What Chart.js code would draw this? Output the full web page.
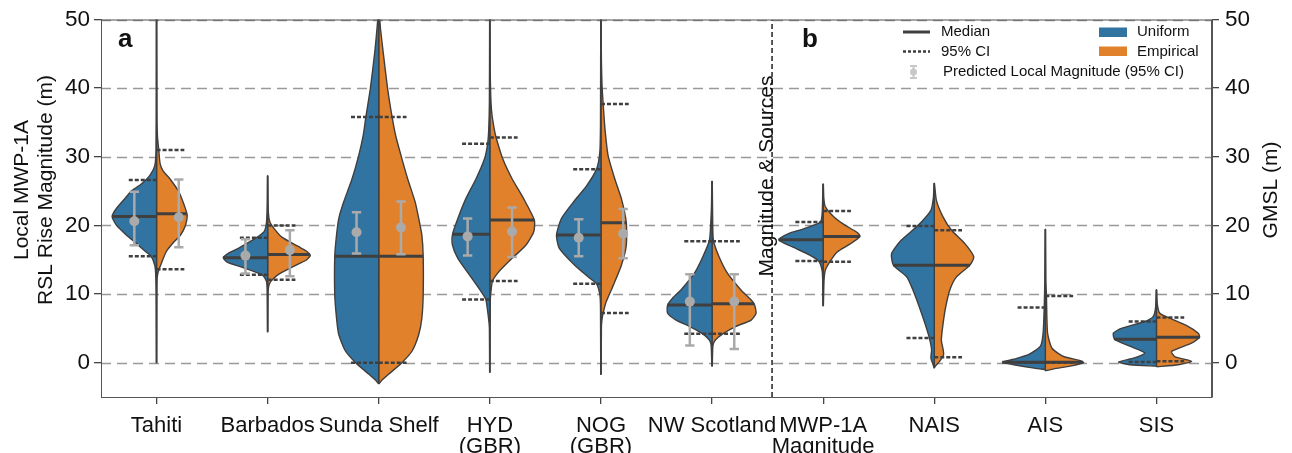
<!DOCTYPE html>
<html>
<head>
<meta charset="utf-8">
<script src="https://cdn.jsdelivr.net/npm/chart.js@4.4.0/dist/chart.umd.min.js"></script>
<style>
  html, body { margin: 0; padding: 0; background: #fff; }
</style>
</head>
<body>
<canvas id="violins" width="1292" height="453"></canvas>
<script>
// categories on the x axis (arrays = two-line labels)
const categories = ['Tahiti', 'Barbados', 'Sunda Shelf', ['HYD', '(GBR)'], ['NOG', '(GBR)'],
  'NW Scotland', ['MWP-1A', 'Magnitude'], 'NAIS', 'AIS', 'SIS'];
const yTicks = [0, 10, 20, 30, 40, 50];

// density profiles, [value (m), relative density 0..1]
const uniformProfiles = [
  [[0,0.005],[10,0.01],[13,0.02],[14.2,0.04],[15.5,0.12],[16.2,0.25],[17.5,0.48],[18.6,0.68],[20,0.9],[21.3,1.0],[22.5,0.9],[24,0.7],[25,0.57],[26,0.35],[27.3,0.15],[28.7,0.04],[31,0.012],[40,0.006],[50,0.005]],
  [[4.5,0.005],[10,0.01],[11.8,0.025],[12.8,0.12],[14,0.62],[14.6,0.9],[15.3,1.0],[16,0.87],[16.7,0.65],[18.1,0.28],[19.1,0.08],[20.5,0.025],[23,0.01],[27.2,0.005]],
  [[-3.1,0],[-2.7,0.05],[-1.7,0.22],[0,0.52],[1.7,0.75],[4.1,0.9],[6.5,0.95],[9.9,0.99],[15.5,0.99],[18.6,0.95],[21,0.9],[23.4,0.79],[26.8,0.6],[30.2,0.45],[33.1,0.35],[35.8,0.29],[39.9,0.19],[45.2,0.09],[48.6,0.04],[50,0.02]],
  [[-1.4,0.005],[5,0.01],[6.5,0.03],[9.2,0.09],[10.4,0.2],[12.8,0.46],[15.2,0.72],[17.1,0.84],[18.7,0.84],[21,0.72],[23.9,0.54],[26.8,0.31],[29.7,0.12],[31.9,0.05],[34,0.025],[38,0.01],[50,0.005]],
  [[-1.7,0.005],[8,0.01],[9.9,0.025],[11.5,0.1],[12.3,0.25],[14.2,0.59],[16.7,0.94],[18.6,1.0],[21,0.89],[23.4,0.62],[25.8,0.32],[28.2,0.1],[30.7,0.025],[35,0.01],[50,0.005]],
  [[-0.5,0.005],[2.5,0.02],[3.3,0.06],[4.2,0.21],[5.3,0.51],[6.2,0.81],[7.2,1.0],[8.4,1.0],[9.4,0.89],[10.6,0.7],[13,0.4],[15.4,0.21],[17.8,0.06],[20.2,0.03],[23,0.012],[26.4,0.005]],
  [[8.3,0.005],[12,0.01],[13.5,0.025],[14.8,0.1],[15.65,0.29],[16.9,0.7],[17.9,1.0],[18.8,0.78],[19.5,0.44],[20.5,0.06],[22,0.02],[26,0.005]],
  [[-0.8,0],[-0.3,0.025],[0.7,0.075],[1.9,0.06],[3.6,0.11],[5.75,0.21],[8.2,0.34],[10.6,0.48],[12.5,0.62],[14.2,0.92],[15.9,0.96],[17.8,0.75],[19.9,0.38],[22.2,0.075],[24,0.02],[26.1,0.005]],
  [[-1.0,0],[-0.8,0.25],[-0.3,0.71],[0.05,0.97],[0.5,0.71],[1.2,0.37],[2.4,0.11],[4.3,0.05],[8.2,0.025],[12,0.012],[19.4,0.005]],
  [[-0.5,0],[-0.3,0.6],[0.1,0.85],[0.7,0.5],[1.4,0.26],[2.4,0.6],[3.4,0.94],[4.3,0.97],[5.0,0.79],[6.0,0.26],[6.7,0.075],[8,0.02],[10.6,0.005]]
];
const empiricalProfiles = [
  [[0,0.005],[10,0.008],[12.5,0.015],[13.5,0.05],[14.5,0.11],[16.2,0.22],[17.5,0.38],[18.6,0.54],[20,0.65],[21.5,0.69],[23,0.62],[24.9,0.5],[26.8,0.3],[27.9,0.15],[29,0.08],[31,0.05],[33,0.02],[36,0.01],[50,0.005]],
  [[4.5,0.005],[10.5,0.012],[11.5,0.04],[12.2,0.12],[13,0.28],[14.4,0.7],[15,0.88],[15.65,0.96],[16.3,0.86],[16.9,0.7],[18.3,0.32],[19.5,0.15],[20.5,0.05],[22,0.015],[27.2,0.005]],
  [[-3.1,0],[-2.7,0.05],[-1.7,0.22],[0,0.52],[1.7,0.75],[4.1,0.9],[6.5,0.97],[9.9,1.0],[15.5,1.0],[18.6,0.97],[21,0.9],[23.4,0.82],[26.8,0.65],[30.2,0.5],[33.1,0.38],[35.8,0.3],[39.9,0.2],[45.2,0.1],[48.6,0.04],[50,0.02]],
  [[-1.4,0.005],[9,0.01],[10.4,0.025],[11.9,0.06],[13.3,0.21],[15.2,0.5],[17.1,0.81],[19.1,0.99],[20.8,1.0],[23.9,0.76],[26.8,0.5],[29.7,0.29],[32.8,0.14],[34,0.1],[36,0.05],[38,0.025],[42,0.01],[50,0.005]],
  [[-1.7,0.005],[5,0.01],[6.1,0.02],[7.25,0.05],[8.9,0.12],[11.3,0.28],[14.2,0.46],[17.1,0.57],[20.4,0.57],[23.9,0.46],[26.8,0.31],[30.2,0.16],[34.1,0.09],[37.7,0.05],[40.3,0.025],[44,0.01],[50,0.005]],
  [[-0.5,0.005],[2.5,0.02],[3.3,0.075],[4.2,0.24],[5.3,0.54],[6.2,0.88],[7.2,0.99],[8.55,0.95],[9.4,0.84],[10.6,0.65],[13,0.35],[15.4,0.16],[17.8,0.03],[20.2,0.015],[26.4,0.005]],
  [[8.3,0.005],[12,0.02],[13.5,0.05],[14.7,0.15],[16.1,0.31],[17.3,0.61],[18.4,0.83],[19,0.76],[20,0.5],[21.2,0.25],[22.7,0.05],[24,0.015],[26,0.005]],
  [[-0.8,0],[-0.5,0.025],[0.2,0.12],[1.15,0.21],[1.9,0.2],[3.3,0.16],[5.75,0.2],[8.2,0.26],[10.6,0.35],[12.5,0.5],[14.2,0.8],[15.4,0.89],[17.35,0.69],[19.3,0.39],[21.2,0.2],[23.6,0.05],[26.1,0.005]],
  [[-1.2,0],[-0.9,0.19],[-0.5,0.56],[0.0,0.86],[0.3,0.79],[0.9,0.41],[2.1,0.15],[4.3,0.05],[9.6,0.025],[12,0.012],[19.4,0.005]],
  [[-0.6,0],[-0.3,0.49],[0.2,0.79],[0.9,0.41],[1.65,0.34],[2.85,0.79],[3.7,0.97],[4.3,0.94],[5.3,0.71],[6.6,0.26],[7.2,0.075],[8.5,0.02],[10.6,0.005]]
];

// medians and 95% CI of each half
const uniformMedian   = [21.3, 15.3, 15.5, 18.7, 18.6, 8.4, 17.9, 14.2, 0.05, 3.4];
const empiricalMedian = [21.7, 15.75, 15.5, 20.8, 20.4, 8.6, 18.4, 14.2, 0.05, 3.7];
const uniformCILow    = [15.5, 12.8, 0, 9.2, 11.5, 4.2, 14.8, 3.6, 0, 0.1];
const uniformCIHigh   = [26.6, 18.2, 35.8, 31.9, 28.2, 17.7, 20.5, 19.9, 8.05, 6.0];
const empiricalCILow  = [13.6, 12.1, 0, 11.9, 7.25, 4.2, 14.7, 0.8, 0, 0.2];
const empiricalCIHigh = [31.0, 20.0, 35.8, 32.8, 37.7, 17.7, 22.1, 19.3, 9.7, 6.6];

// predicted local magnitude (panel a only)
const predUniform       = [20.6, 15.6, 19.0, 18.4, 18.2, 8.9];
const predUniformLow    = [17.1, 13.0, 15.9, 15.6, 15.5, 2.5];
const predUniformHigh   = [24.9, 18.0, 21.9, 21.0, 20.9, 12.9];
const predEmpirical     = [21.2, 16.4, 19.7, 19.1, 18.8, 8.9];
const predEmpiricalLow  = [16.8, 12.6, 15.8, 15.4, 15.2, 2.0];
const predEmpiricalHigh = [26.7, 19.3, 23.5, 22.6, 22.4, 12.9];

const panelSplit = 5.54;

const BLUE = '#3274a1', ORANGE = '#e1812c', EDGE = '#3f3f3f', ERR = '#aaaaaa';
const FONT = '"Liberation Sans", Arial, Helvetica, sans-serif';
const HALF = 0.4, CI_LEN = 0.25, ERR_OFF = 0.2, CAP = 0.042;

function densAt(profile, y) {
  for (let k = 1; k < profile.length; k++) {
    const [y0, d0] = profile[k - 1], [y1, d1] = profile[k];
    if (y >= y0 && y <= y1) return d0 + (d1 - d0) * (y - y0) / (y1 - y0);
  }
  return 0;
}

function halfViolin(i, profile, side, color) {
  const first = profile[0][0], last = profile[profile.length - 1][0];
  const pts = [{x: i, y: first}];
  profile.forEach(([y, d]) => pts.push({x: i + side * d * HALF, y: y}));
  pts.push({x: i, y: last});
  pts.push({x: i, y: first});
  return {data: pts, showLine: true, fill: 'shape', backgroundColor: color, borderColor: EDGE,
    borderWidth: 1.4, pointRadius: 0, tension: 0.2, order: 5};
}

function segment(pts, color, width, dash, order) {
  return {data: pts, showLine: true, fill: false, borderColor: color, borderWidth: width,
    borderDash: dash, pointRadius: 0, spanGaps: false, tension: 0, order: order};
}

const datasets = [];
categories.forEach((c, i) => {
  datasets.push(halfViolin(i, uniformProfiles[i], -1, BLUE));
  datasets.push(halfViolin(i, empiricalProfiles[i], 1, ORANGE));
  const mu = uniformMedian[i], me = empiricalMedian[i];
  datasets.push(segment([{x: i - HALF * densAt(uniformProfiles[i], mu), y: mu}, {x: i, y: mu}], EDGE, 3, [], 3));
  datasets.push(segment([{x: i, y: me}, {x: i + HALF * densAt(empiricalProfiles[i], me), y: me}], EDGE, 3, [], 3));
  [uniformCILow[i], uniformCIHigh[i]].forEach(v =>
    datasets.push(segment([{x: i - CI_LEN, y: v}, {x: i, y: v}], EDGE, 2.5, [4, 2], 2)));
  [empiricalCILow[i], empiricalCIHigh[i]].forEach(v =>
    datasets.push(segment([{x: i, y: v}, {x: i + CI_LEN, y: v}], EDGE, 2.5, [4, 2], 2)));
});

function errorBar(x, lo, hi) {
  return segment([
    {x: x - CAP, y: lo}, {x: x + CAP, y: lo}, {x: x, y: null},
    {x: x, y: lo}, {x: x, y: hi}, {x: x, y: null},
    {x: x - CAP, y: hi}, {x: x + CAP, y: hi}
  ], ERR, 2.5, [], 1);
}
predUniform.forEach((v, i) => {
  datasets.push(errorBar(i - ERR_OFF, predUniformLow[i], predUniformHigh[i]));
  datasets.push(errorBar(i + ERR_OFF, predEmpiricalLow[i], predEmpiricalHigh[i]));
});
datasets.push({
  data: predUniform.map((v, i) => ({x: i - ERR_OFF, y: v}))
    .concat(predEmpirical.map((v, i) => ({x: i + ERR_OFF, y: v}))),
  showLine: false, pointRadius: 5, pointBackgroundColor: ERR, pointBorderWidth: 0, order: 0
});
datasets.push(segment([{x: panelSplit, y: -5}, {x: panelSplit, y: 50}], '#222', 1.5, [5, 3], 4));

const decor = {
  id: 'decor',
  beforeDatasetsDraw(chart) {
    const {ctx, chartArea: a, scales: {y}} = chart;
    ctx.save();
    ctx.strokeStyle = '#999';
    ctx.lineWidth = 1.3;
    ctx.setLineDash([10, 6]);
    yTicks.forEach(t => {
      const py = Math.round(y.getPixelForValue(t)) + 0.5;
      ctx.beginPath(); ctx.moveTo(a.left, py); ctx.lineTo(a.right, py); ctx.stroke();
    });
    ctx.restore();
  },
  afterDraw(chart) {
    const {ctx, chartArea: a} = chart;
    ctx.save();
    ctx.strokeStyle = '#555';
    ctx.lineWidth = 1;
    ctx.strokeRect(a.left + 0.5, a.top + 0.5, a.right - a.left - 1, a.bottom - a.top);
    ctx.fillStyle = '#111';
    // axis titles
    ctx.textAlign = 'center';
    ctx.textBaseline = 'middle';
    ctx.font = '21px ' + FONT;
    [[22, 'Local MWP-1A'], [46, 'RSL Rise Magnitude (m)'], [1271, 'GMSL (m)'], [767, 'Magnitude & Sources']]
      .forEach(([x, t]) => {
        ctx.save();
        ctx.translate(x, t === 'Magnitude & Sources' ? 176 : 190);
        ctx.rotate(-Math.PI / 2);
        ctx.fillText(t, 0, 0);
        ctx.restore();
      });
    // panel letters
    ctx.font = 'bold 26px ' + FONT;
    ctx.textAlign = 'left';
    ctx.textBaseline = 'alphabetic';
    ctx.fillText('a', 118, 47);
    ctx.fillText('b', 802, 47);
    // legend
    ctx.font = '15px ' + FONT;
    ctx.textBaseline = 'middle';
    ctx.strokeStyle = EDGE;
    ctx.lineWidth = 3;
    ctx.beginPath(); ctx.moveTo(903, 32); ctx.lineTo(930, 32); ctx.stroke();
    ctx.lineWidth = 2.5;
    ctx.setLineDash([3, 2]);
    ctx.beginPath(); ctx.moveTo(903, 51.5); ctx.lineTo(930, 51.5); ctx.stroke();
    ctx.setLineDash([]);
    ctx.strokeStyle = '#c8c8c8';
    ctx.fillStyle = '#c8c8c8';
    ctx.lineWidth = 2;
    ctx.beginPath();
    ctx.moveTo(913.5, 66); ctx.lineTo(913.5, 78);
    ctx.moveTo(910, 66); ctx.lineTo(917, 66);
    ctx.moveTo(910, 78); ctx.lineTo(917, 78);
    ctx.stroke();
    ctx.beginPath(); ctx.arc(913.5, 72, 3.5, 0, Math.PI * 2); ctx.fill();
    ctx.fillStyle = BLUE; ctx.fillRect(1099, 27.5, 28, 9.5);
    ctx.fillStyle = ORANGE; ctx.fillRect(1099, 46.5, 28, 9.5);
    ctx.fillStyle = '#111';
    ctx.fillText('Median', 941, 32);
    ctx.fillText('95% CI', 941, 51.5);
    ctx.fillText('Predicted Local Magnitude (95% CI)', 943, 72);
    ctx.fillText('Uniform', 1137, 32);
    ctx.fillText('Empirical', 1137, 51.5);
    ctx.restore();
  }
};

const setTicks = scale => { scale.ticks = yTicks.map(v => ({value: v})); };

new Chart(document.getElementById('violins'), {
  type: 'scatter',
  data: {datasets: datasets},
  options: {
    responsive: false,
    animation: false,
    devicePixelRatio: 1,
    layout: {padding: {top: 18, left: 0, right: 0, bottom: 0}},
    plugins: {legend: {display: false}, tooltip: {enabled: false}},
    scales: {
      x: {
        type: 'linear', min: -0.5, max: 9.5,
        afterBuildTicks: scale => { scale.ticks = categories.map((c, i) => ({value: i})); },
        afterFit: scale => { scale.height = 56; },
        grid: {drawOnChartArea: false, color: '#444', tickLength: 7, lineWidth: 1.3},
        border: {color: '#555'},
        ticks: {callback: v => categories[v], maxRotation: 0, autoSkip: false, padding: 11,
          color: '#111', font: {family: FONT, size: 22, lineHeight: 0.97}}
      },
      y: {
        position: 'left', min: -5, max: 50,
        afterBuildTicks: setTicks,
        afterFit: scale => { scale.width = 101; },
        grid: {drawOnChartArea: false, color: '#444', tickLength: 7, lineWidth: 1.3},
        border: {color: '#555'},
        ticks: {padding: 4, color: '#111', font: {family: FONT, size: 22.5}}
      },
      y2: {
        position: 'right', min: -5, max: 50,
        afterBuildTicks: setTicks,
        afterFit: scale => { scale.width = 80; },
        grid: {drawOnChartArea: false, color: '#444', tickLength: 7, lineWidth: 1.3},
        border: {color: '#555'},
        ticks: {padding: 6, color: '#111', font: {family: FONT, size: 22.5}}
      }
    }
  },
  plugins: [decor]
});
</script>
</body>
</html>
